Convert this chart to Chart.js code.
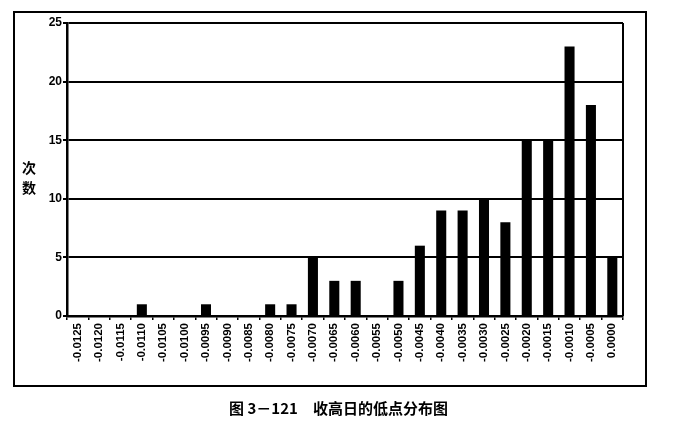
<!DOCTYPE html>
<html>
<head>
<meta charset="UTF-8">
<title>收高日的低点分布图</title>
<script src="https://cdn.jsdelivr.net/npm/chart.js"></script>
<style>
  body { margin: 0; background: #fff; }
  #wrap { position: relative; width: 677px; height: 426px; }
  #caption {
    position: absolute; left: 0; width: 677px; top: 397px;
    text-align: center; font: bold 15px "Noto Sans CJK SC", sans-serif; color: #000;
  }
</style>
</head>
<body>
<div id="wrap">
  <canvas id="c" width="677" height="426"></canvas>
  <div id="caption">图 3－121　收高日的低点分布图</div>
</div>
<script>
// categories (low point relative change)
const bins = ['-0.0125','-0.0120','-0.0115','-0.0110','-0.0105','-0.0100','-0.0095','-0.0090',
  '-0.0085','-0.0080','-0.0075','-0.0070','-0.0065','-0.0060','-0.0055','-0.0050','-0.0045',
  '-0.0040','-0.0035','-0.0030','-0.0025','-0.0020','-0.0015','-0.0010','-0.0005','0.0000'];
// counts
const counts = [0,0,0,1,0,0,1,0,0,1,1,5,3,3,0,3,6,9,9,10,8,15,15,23,18,5];
const yTicks = [0,5,10,15,20,25];
const yTitle = ['次','数'];

// outer frame, right border of plot and the stacked y title
const extras = {
  id: 'extras',
  afterDraw(chart) {
    const ctx = chart.ctx, a = chart.chartArea;
    ctx.save();
    ctx.strokeStyle = '#000';
    ctx.lineWidth = 2;
    ctx.strokeRect(a.left - 53, a.top - 11, 632, 374);
    ctx.beginPath();
    ctx.moveTo(a.right, a.top);
    ctx.lineTo(a.right, a.bottom);
    ctx.stroke();
    ctx.fillStyle = '#000';
    ctx.font = 'bold 14px "Noto Sans CJK SC"';
    ctx.textAlign = 'center';
    ctx.textBaseline = 'middle';
    yTitle.forEach((t, i) => ctx.fillText(t, a.left - 38, 168 + i * 20));
    ctx.restore();
  }
};

new Chart(document.getElementById('c'), {
  type: 'bar',
  data: {
    labels: bins,
    datasets: [{
      data: counts,
      backgroundColor: '#000',
      barPercentage: 0.47,
      categoryPercentage: 1.0
    }]
  },
  options: {
    responsive: false,
    animation: false,
    layout: { padding: { left: 0, top: 23, right: 54, bottom: 40 } },
    plugins: { legend: { display: false }, tooltip: { enabled: false } },
    scales: {
      x: {
        afterFit(axis) { axis.height = 70; },
        grid: { drawOnChartArea: false, drawTicks: true, tickLength: 4, color: '#000', lineWidth: 1.5 },
        border: { color: '#000', width: 2.5 },
        ticks: {
          color: '#000', minRotation: 90, maxRotation: 90, autoSkip: false, padding: 3,
          font: { family: 'Liberation Sans', weight: 'bold', size: 11.5 }
        }
      },
      y: {
        min: 0, max: 25,
        afterFit(axis) { axis.width = 67; },
        afterBuildTicks(axis) { axis.ticks = yTicks.map(v => ({ value: v })); },
        grid: { color: '#000', lineWidth: 2, tickLength: 4 },
        border: { color: '#000', width: 2.5 },
        ticks: {
          color: '#000', padding: 1,
          font: { family: 'Liberation Sans', weight: 'bold', size: 12 }
        }
      }
    }
  },
  plugins: [extras]
});
</script>
</body>
</html>
